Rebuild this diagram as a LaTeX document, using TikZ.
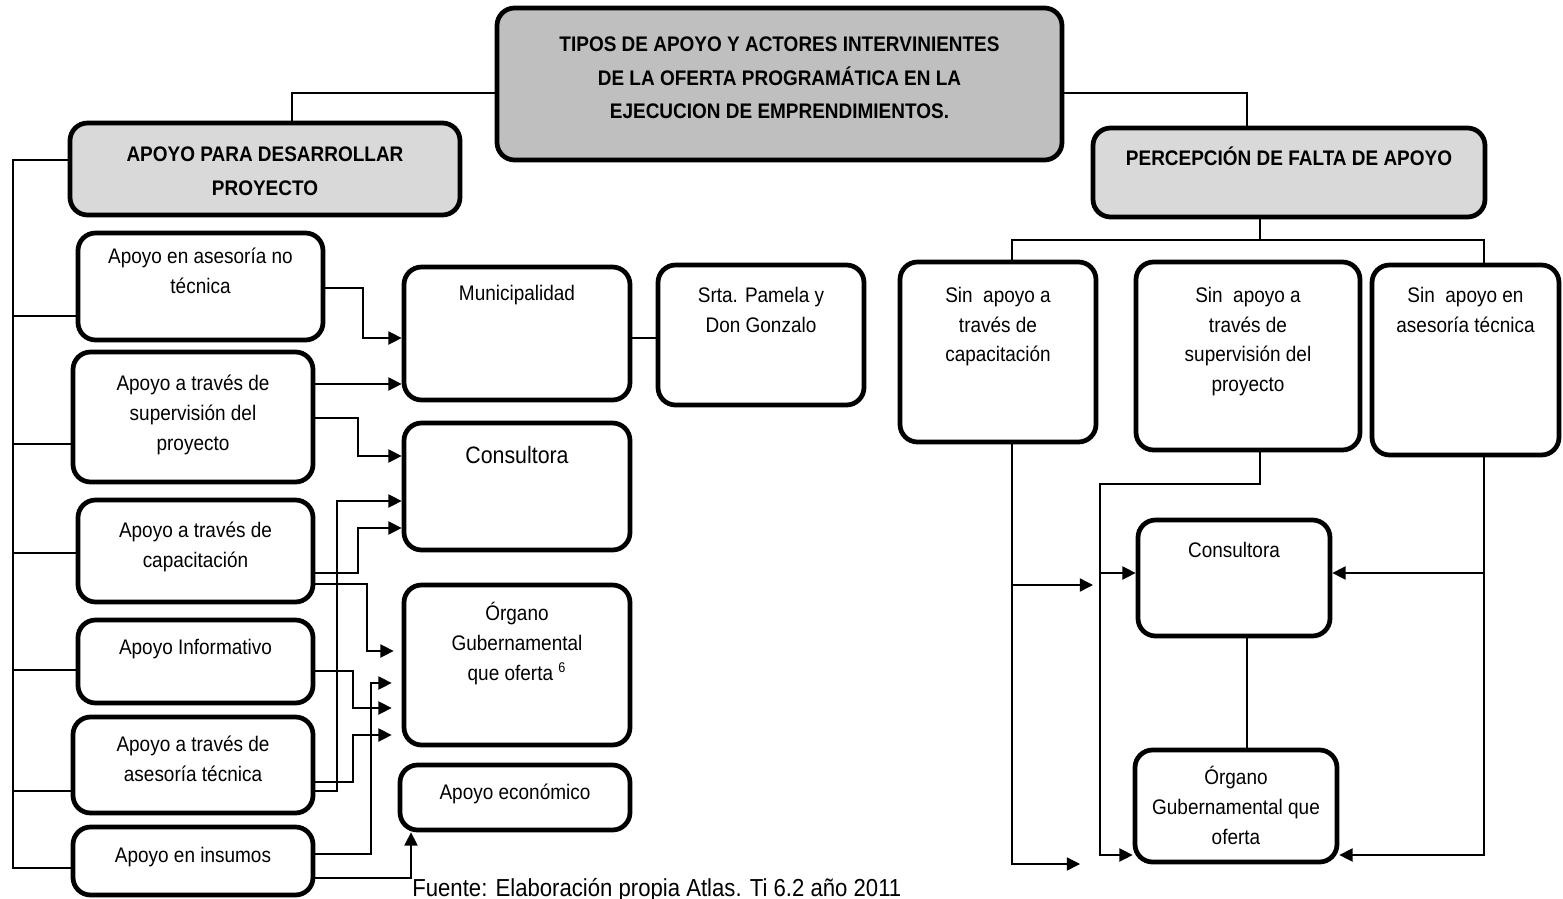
\documentclass[tikz,border=0pt]{standalone}
\usepackage{fontspec}
\setmainfont{Liberation Sans}[FakeStretch=0.9]
\usetikzlibrary{arrows.meta,fit,positioning}

\begin{document}
\begin{tikzpicture}[x=0.02cm,y=-0.02cm,
    box/.style={draw, line width=2.7pt, rounded corners=10pt, inner sep=0pt, fill=white},
    head/.style={box, fill=black!25},
    subhead/.style={box, fill=black!15},
    txt/.style={align=center, inner sep=0pt, font=\fontsize{12}{17}\selectfont},
    btxt/.style={txt, font=\fontsize{12}{19}\selectfont\bfseries},
    conn/.style={line width=0.8pt},
    arr/.style={conn, -{Triangle[length=7.5pt,width=7.5pt]}}]
  \useasboundingbox (0,0) rectangle (1563,899);

  % headings
  \node[head, fit={(497,8) (1062,160)}] (title) {};
  \node[btxt, below=0.62cm of title.north] (title-t)
    {TIPOS DE APOYO Y ACTORES INTERVINIENTES\\DE LA OFERTA PROGRAMÁTICA EN LA\\EJECUCION DE EMPRENDIMIENTOS.};
  \node[subhead, fit={(70,123) (460,215)}] (apoyo) {};
  \node[btxt, below=0.52cm of apoyo.north] (apoyo-t) {APOYO PARA DESARROLLAR\\PROYECTO};
  \node[subhead, fit={(1093,128) (1485,217)}] (perc) {};
  \node[btxt, below=0.42cm of perc.north] (perc-t) {PERCEPCIÓN DE FALTA DE APOYO};

  % tipos de apoyo
  \node[box, fit={(78,233) (323,340)}] (noTec) {};
  \node[txt, below=0.34cm of noTec.north] (noTec-t) {Apoyo en asesoría no\\técnica};
  \node[box, fit={(73,352) (313,482)}] (superv) {};
  \node[txt, below=0.5cm of superv.north] (superv-t) {Apoyo a través de\\supervisión del\\proyecto};
  \node[box, fit={(78,500) (313,602)}] (capac) {};
  \node[txt, below=0.48cm of capac.north] (capac-t) {Apoyo a través de\\capacitación};
  \node[box, fit={(78,620) (313,703)}] (inform) {};
  \node[txt, below=0.42cm of inform.north] (inform-t) {Apoyo Informativo};
  \node[box, fit={(73,717) (313,813)}] (tecnica) {};
  \node[txt, below=0.42cm of tecnica.north] (tecnica-t) {Apoyo a través de\\asesoría técnica};
  \node[box, fit={(73,827) (313,895)}] (insumos) {};
  \node[txt, below=0.44cm of insumos.north] (insumos-t) {Apoyo en insumos};

  % actores
  \node[box, fit={(404,267) (630,400)}] (muni) {};
  \node[txt, below=0.4cm of muni.north] (muni-t) {Municipalidad};
  \node[box, fit={(658,265) (864,405)}] (srta) {};
  \node[txt, below=0.48cm of srta.north] (srta-t) {Srta. Pamela y\\Don Gonzalo};
  \node[box, fit={(404,423) (630,550)}] (consul) {};
  \node[txt, font=\fontsize{13.5}{17}\selectfont, below=0.5cm of consul.north] (consul-t) {Consultora};
  \node[box, fit={(404,585) (630,745)}] (organo) {};
  \node[txt, below=0.38cm of organo.north] (organo-t) {Órgano\\Gubernamental\\que oferta \textsuperscript{6}};
  \node[box, fit={(400,765) (630,830)}] (econ) {};
  \node[txt, below=0.42cm of econ.north] (econ-t) {Apoyo económico};

  % falta de apoyo
  \node[box, fit={(900,262) (1096,442)}] (sinCap) {};
  \node[txt, below=0.54cm of sinCap.north] (sinCap-t) {Sin\ \ apoyo a\\través de\\capacitación};
  \node[box, fit={(1136,262) (1360,450)}] (sinSup) {};
  \node[txt, below=0.54cm of sinSup.north] (sinSup-t) {Sin\ \ apoyo a\\través de\\supervisión del\\proyecto};
  \node[box, fit={(1372,265) (1559,455)}] (sinTec) {};
  \node[txt, below=0.48cm of sinTec.north] (sinTec-t) {Sin\ \ apoyo en\\asesoría técnica};
  \node[box, fit={(1138,520) (1330,636)}] (consulR) {};
  \node[txt, below=0.48cm of consulR.north] (consulR-t) {Consultora};
  \node[box, fit={(1135,750) (1337,862)}] (organoR) {};
  \node[txt, below=0.36cm of organoR.north] (organoR-t) {Órgano\\Gubernamental que\\oferta};

  \coordinate (libreA) at (1093,585);
  \coordinate (libreB) at (1080,864);

  % arbol
  \draw[conn] (title.west |- 0,93) -| (292,0 |- apoyo.north);
  \draw[conn] (title.east |- 0,93) -| (1247,0 |- perc.north);
  \draw[conn] (apoyo.west |- 0,160) -| (13,868) -- (insumos.west |- 0,868);
  \foreach \b/\y in {noTec/316, superv/444, capac/553, inform/670, tecnica/791}
    \draw[conn] (13,\y) -- (\b.west |- 0,\y);

  % tipos -> actores
  \draw[arr] (noTec.east |- 0,288) -| (363,338) -- (muni.west |- 0,338);
  \draw[arr] (superv.east |- 0,384) -- (muni.west |- 0,384);
  \draw[arr] (superv.east |- 0,418) -| (358,456) -- (consul.west |- 0,456);
  \draw[arr] (tecnica.east |- 0,791) -| (337,501) -- (consul.west |- 0,501);
  \draw[arr] (capac.east |- 0,573) -| (358,528) -- (consul.west |- 0,528);
  \draw[arr, shorten >=0.16cm] (capac.east |- 0,584) -| (367,651) -- (organo.west |- 0,651);
  \draw[arr, shorten >=0.2cm] (inform.east |- 0,671) -| (353,708) -- (organo.west |- 0,708);
  \draw[arr, shorten >=0.2cm] (tecnica.east |- 0,782) -| (353,735) -- (organo.west |- 0,735);
  \draw[arr, shorten >=0.2cm] (insumos.east |- 0,854) -| (371,683) -- (organo.west |- 0,683);
  \draw[arr] (insumos.east |- 0,878) -| (econ.south -| 411,0);
  \draw[conn] (muni.east |- 0,338) -- (srta.west |- 0,338);

  % falta de apoyo
  \draw[conn] (1260,0 |- perc.south) -- (1260,240);
  \draw[conn] (1012,0 |- sinCap.north) |- (1484,240) -- (1484,0 |- sinTec.north);
  \draw[arr] (1012,0 |- sinCap.south) |- (libreB);
  \draw[arr] (1012,585) -- (libreA);
  \draw[arr] (1260,0 |- sinSup.south) |- (1100,484) |- (organoR.west |- 0,855);
  \draw[arr] (1100,573) -- (consulR.west |- 0,573);
  \draw[arr] (1484,0 |- sinTec.south) |- (organoR.east |- 0,855);
  \draw[arr] (1484,573) -- (consulR.east |- 0,573);
  \draw[conn] (consulR.south -| 1247,0) -- (organoR.north -| 1247,0);

  \node[anchor=base west, inner sep=0pt, font=\fontsize{14}{17}\selectfont] (fuente) at (412,896)
    {Fuente: Elaboración propia Atlas. Ti 6.2 año 2011};
\end{tikzpicture}
\end{document}
